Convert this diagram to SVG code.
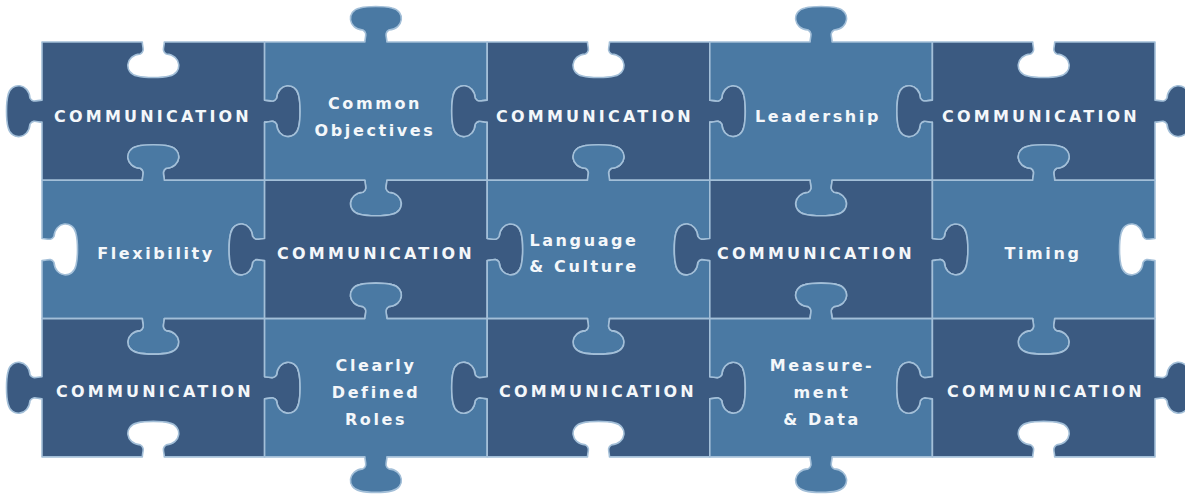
<svg xmlns="http://www.w3.org/2000/svg" width="1185" height="495" viewBox="0 0 1185 495">
<style>
.dk{fill:#3b5a81;stroke:#a3bfd8;stroke-width:1.6;stroke-linejoin:round}
.lt{fill:#4a79a3;stroke:#a3bfd8;stroke-width:1.6;stroke-linejoin:round}
text{font-family:"DejaVu Sans","Liberation Sans",sans-serif;font-weight:bold;fill:#f4f7fa;text-anchor:middle;font-size:16px;letter-spacing:2.6px}
.cm{letter-spacing:3.2px}
</style>
<defs>
<path id="dark" d="M0,0 L100.3,0 C100.3,5 103.3,9 98.3,12 C83.3,13 81.3,31 95.3,34 C103.3,36 119.3,36 127.3,34 C141.3,31 139.3,13 124.3,12 C119.3,9 122.3,5 122.3,0 L222.6,0 L222.6,58.15 C227.6,58.15 231.6,61.15 234.6,56.15 C235.6,41.15 253.6,39.15 256.6,53.15 C258.6,61.15 258.6,77.15 256.6,85.15 C253.6,99.15 235.6,97.15 234.6,82.15 C231.6,77.15 227.6,80.15 222.6,80.15 L222.6,138.3 L122.3,138.3 C122.3,133.3 119.3,129.3 124.3,126.3 C139.3,125.3 141.3,107.3 127.3,104.3 C119.3,102.3 103.3,102.3 95.3,104.3 C81.3,107.3 83.3,125.3 98.3,126.3 C103.3,129.3 100.3,133.3 100.3,138.3 L0,138.3 L0,80.15 C-5,80.15 -9,77.15 -12,82.15 C-13,97.15 -31,99.15 -34,85.15 C-36,77.15 -36,61.15 -34,53.15 C-31,39.15 -13,41.15 -12,56.15 C-9,61.15 -5,58.15 0,58.15 Z"/>
<path id="light" d="M0,0 L100.3,0 C100.3,-5 103.3,-9 98.3,-12 C83.3,-13 81.3,-31 95.3,-34 C103.3,-36 119.3,-36 127.3,-34 C141.3,-31 139.3,-13 124.3,-12 C119.3,-9 122.3,-5 122.3,0 L222.6,0 L222.6,58.15 C217.6,58.15 213.6,61.15 210.6,56.15 C209.6,41.15 191.6,39.15 188.6,53.15 C186.6,61.15 186.6,77.15 188.6,85.15 C191.6,99.15 209.6,97.15 210.6,82.15 C213.6,77.15 217.6,80.15 222.6,80.15 L222.6,138.3 L122.3,138.3 C122.3,143.3 119.3,147.3 124.3,150.3 C139.3,151.3 141.3,169.3 127.3,172.3 C119.3,174.3 103.3,174.3 95.3,172.3 C81.3,169.3 83.3,151.3 98.3,150.3 C103.3,147.3 100.3,143.3 100.3,138.3 L0,138.3 L0,80.15 C5,80.15 9,77.15 12,82.15 C13,97.15 31,99.15 34,85.15 C36,77.15 36,61.15 34,53.15 C31,39.15 13,41.15 12,56.15 C9,61.15 5,58.15 0,58.15 Z"/>
</defs>
<rect width="1185" height="495" fill="#ffffff"/>
<g id="pieces">
<g id="r0c0"><use href="#dark" class="dk" transform="translate(42,42)"/><text class="cm" x="153" y="122">COMMUNICATION</text></g>
<g id="r0c1"><use href="#light" class="lt" transform="translate(264.6,42)"/><text x="375" y="109">Common</text><text x="375" y="136">Objectives</text></g>
<g id="r0c2"><use href="#dark" class="dk" transform="translate(487.2,42)"/><text class="cm" x="595" y="122">COMMUNICATION</text></g>
<g id="r0c3"><use href="#light" class="lt" transform="translate(709.8,42)"/><text x="818" y="122">Leadership</text></g>
<g id="r0c4"><use href="#dark" class="dk" transform="translate(932.4,42)"/><text class="cm" x="1041" y="122">COMMUNICATION</text></g>

<g id="r1c0"><use href="#light" class="lt" transform="translate(42,180.3)"/><text x="156" y="259">Flexibility</text></g>
<g id="r1c1"><use href="#dark" class="dk" transform="translate(264.6,180.3)"/><text class="cm" x="376" y="259">COMMUNICATION</text></g>
<g id="r1c2"><use href="#light" class="lt" transform="translate(487.2,180.3)"/><text x="584" y="246">Language</text><text x="584" y="272">&amp; Culture</text></g>
<g id="r1c3"><use href="#dark" class="dk" transform="translate(709.8,180.3)"/><text class="cm" x="816" y="259">COMMUNICATION</text></g>
<g id="r1c4"><use href="#light" class="lt" transform="translate(932.4,180.3)"/><text x="1043" y="259">Timing</text></g>

<g id="r2c0"><use href="#dark" class="dk" transform="translate(42,318.6)"/><text class="cm" x="155" y="397">COMMUNICATION</text></g>
<g id="r2c1"><use href="#light" class="lt" transform="translate(264.6,318.6)"/><text x="376" y="371">Clearly</text><text x="376" y="398">Defined</text><text x="376" y="425">Roles</text></g>
<g id="r2c2"><use href="#dark" class="dk" transform="translate(487.2,318.6)"/><text class="cm" x="598" y="397">COMMUNICATION</text></g>
<g id="r2c3"><use href="#light" class="lt" transform="translate(709.8,318.6)"/><text x="822" y="371">Measure-</text><text x="822" y="398">ment</text><text x="822" y="425">&amp; Data</text></g>
<g id="r2c4"><use href="#dark" class="dk" transform="translate(932.4,318.6)"/><text class="cm" x="1046" y="397">COMMUNICATION</text></g>
</g>
</svg>
